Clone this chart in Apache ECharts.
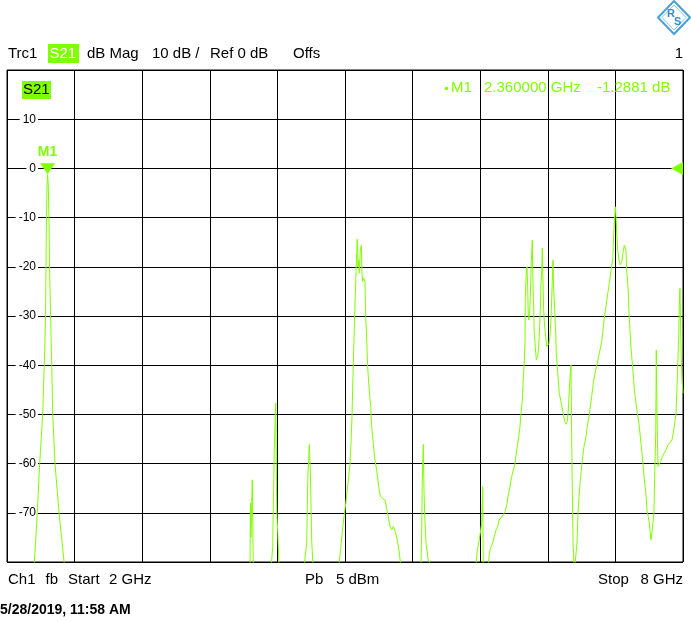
<!DOCTYPE html>
<html>
<head>
<meta charset="utf-8">
<script src="https://cdn.jsdelivr.net/npm/echarts@6/dist/echarts.min.js"></script>
<style>
html,body{margin:0;padding:0;background:#fff;}
#chart{width:691px;height:622px;}
</style>
</head>
<body>
<div id="chart"></div>
<script>
// ---- data ----
const freqGHz = [
  2.000,2.242,2.269,2.290,2.317,2.331,2.342,2.349,2.355,2.360,2.366,2.372,2.378,2.388,2.397,2.406,2.426,2.462,2.509,2.600,
  4.100,4.150,4.157,4.161,4.165,4.177,4.186,4.220,
  4.330,4.346,4.358,4.372,4.385,4.390,4.394,4.403,4.414,4.450,
  4.620,4.639,4.660,4.671,4.678,4.683,4.692,4.705,4.716,4.750,
  4.920,4.947,4.962,4.976,4.991,5.009,5.026,5.044,5.053,5.062,5.068,5.074,5.082,5.091,5.098,5.104,5.109,5.115,5.122,5.127,
  5.136,5.145,5.151,5.157,5.166,5.177,5.184,5.193,5.201,5.213,5.228,5.237,5.251,5.266,5.281,5.295,5.311,5.331,5.355,5.370,
  5.384,5.399,5.414,5.429,5.446,5.464,5.479,5.494,5.550,
  5.650,5.674,5.681,5.686,5.695,5.701,5.710,5.719,5.739,5.748,5.761,5.800,
  6.140,6.163,6.174,6.192,6.213,6.222,6.227,6.250,6.272,6.281,6.296,6.311,6.325,6.340,6.355,6.367,6.384,6.405,6.420,6.435,
  6.449,6.464,6.479,6.494,6.509,6.524,6.538,6.553,6.562,6.574,6.582,6.591,6.598,6.600,6.609,6.615,6.621,6.627,6.633,6.639,
  6.648,6.653,6.662,6.668,6.675,6.680,6.689,6.698,6.710,6.719,6.728,6.733,6.740,6.746,6.751,6.757,6.763,6.772,6.781,6.790,
  6.802,6.810,6.819,6.828,6.834,6.840,6.846,6.852,6.861,6.870,6.875,6.884,6.893,6.902,6.914,6.926,6.937,6.950,6.961,6.973,
  6.982,6.991,7.000,7.006,7.012,7.017,7.024,7.035,7.050,7.059,7.068,7.086,7.103,7.121,7.139,7.150,7.168,7.189,7.204,7.219,
  7.239,7.257,7.275,7.287,7.299,7.316,7.332,7.346,7.361,7.376,7.387,7.394,7.399,7.405,7.411,7.420,7.432,7.443,7.456,7.467,
  7.479,7.488,7.494,7.500,7.512,7.521,7.529,7.538,7.547,7.556,7.568,7.580,7.594,7.609,7.624,7.636,7.647,7.660,7.671,7.680,
  7.692,7.701,7.710,7.716,7.725,7.734,7.742,7.749,7.758,7.763,7.766,7.772,7.778,7.787,7.802,7.816,7.831,7.849,7.867,7.884,
  7.902,7.914,7.926,7.938,7.947,7.955,7.962,7.967,7.973,7.979,7.985,7.991,8.000
];
const s21dB = [
  -90,-80.5,-70,-60,-50,-40,-30,-13,-4,-1.29,-3,-10,-20.6,-31,-40,-50,-60,-70,-80.5,-90,
  -90,-90,-80.5,-68,-75,-63.3,-80.5,-90,
  -90,-80.5,-77,-57.4,-47.7,-60,-69.4,-74,-80.5,-90,
  -90,-80.5,-76,-62,-59.3,-56.1,-61.3,-76,-80.5,-90,
  -90,-80.5,-77.2,-73.8,-70.8,-67.7,-64,-60.3,-55.9,-50.5,-44.4,-39.6,-32.8,-26.1,-20.7,-17.3,-14.4,-20,-18.6,-21.3,
  -16.6,-15.6,-21.3,-23,-22.3,-23,-30.1,-34.9,-40.3,-44.4,-48.4,-52.5,-55.9,-59.3,-61.3,-64,-66.4,-67.1,-67.4,-69.1,
  -70.8,-72.8,-73.5,-72.8,-73.8,-75.5,-77.6,-80.5,-90,
  -90,-80.5,-73.2,-63.3,-56.1,-65.4,-72.1,-76.2,-79.6,-79.6,-80.5,-90,
  -90,-80.5,-77.6,-75.5,-72.1,-64.7,-80.5,-90,-80.5,-78.2,-76.9,-76.2,-74.8,-73.5,-72.8,-71.5,-71.1,-70.4,-69.8,-68.4,
  -66.4,-64.7,-62.7,-61.3,-60,-57.2,-55.2,-52.5,-49.8,-47.1,-43,-39.6,-34.9,-26.7,-21.3,-20,-24,-30.1,-30.8,-29.5,
  -23.4,-19.3,-14.6,-23.4,-28.8,-33.5,-36.2,-38.9,-38.3,-36.2,-32.2,-28.8,-23.4,-20.7,-16.2,-22.7,-28.8,-32.2,-34.2,-36.2,
  -36.6,-35.6,-34.2,-30.8,-26.7,-22.7,-18.6,-24.7,-28.8,-33.5,-37.6,-40.3,-43,-45.7,-47.1,-48.4,-49.8,-51.5,-52,-51.5,
  -49.1,-45,-41.6,-40,-55.2,-64,-76.2,-82,-82,-76.2,-70.1,-64,-60,-56.6,-54.5,-52.5,-50.1,-46.4,-43.7,-41.6,
  -39.6,-37.6,-35.6,-33.5,-30.8,-28.1,-25.4,-23.4,-20.7,-18.6,-12.5,-9.5,-7.8,-9.8,-12.5,-16.6,-18.6,-19.6,-19,-17.3,
  -15.6,-15.2,-16.6,-20.7,-24,-29.5,-32.8,-36.2,-38.9,-41.2,-45,-47.1,-49.8,-51.8,-55.2,-57.9,-60.6,-64,-66,-69.4,
  -70.8,-72.1,-74.2,-75.5,-73.8,-73.5,-70.1,-62,-53.8,-36.9,-44.4,-53.2,-60.6,-60.3,-59.6,-58.6,-57.9,-57.2,-56.2,-55.9,
  -55.2,-53.8,-51.8,-49.8,-44.4,-38.9,-34.2,-28.1,-24.4,-32.2,-38.9,-43,-45.7
];
const marker = { name: 'M1', freq: 2.36, value: -1.2881 };
const refLevel = 0;
const yRange = { min: -80, max: 20, step: 10 };
const xRange = { min: 2, max: 8 };
const xDivisions = 10;

const GREEN = '#80ff00';
const FONT = '"Liberation Sans", Arial, sans-serif';

const chart = echarts.init(document.getElementById('chart'), null, { renderer: 'canvas' });

function txt(text, x, y, opts) {
  opts = opts || {};
  return {
    type: 'text', x: x, y: y, silent: true, z: 100,
    style: {
      text: text,
      font: (opts.weight || 'normal') + ' ' + (opts.size || 15) + 'px ' + FONT,
      fill: opts.color || '#000',
      align: opts.align || 'left',
      verticalAlign: 'top'
    }
  };
}

const option = {
  animation: false,
  backgroundColor: '#fff',
  grid: { left: 7, top: 70, width: 676, height: 492, show: true, borderColor: '#000', borderWidth: 1, backgroundColor: 'transparent', z: 3 },
  xAxis: [
    { type: 'value', min: xRange.min, max: xRange.max, show: true,
      axisLine: { show: false }, axisTick: { show: false }, axisLabel: { show: false }, splitLine: { show: false } },
    { type: 'value', min: 0, max: xDivisions, interval: 1, position: 'top', show: true,
      axisLine: { show: false }, axisTick: { show: false }, axisLabel: { show: false },
      splitLine: { show: true, lineStyle: { color: '#000', width: 1 } } }
  ],
  yAxis: {
    type: 'value', min: yRange.min, max: yRange.max, interval: yRange.step,
    axisLine: { show: false }, axisTick: { show: false },
    splitLine: { show: true, lineStyle: { color: '#000', width: 1 } },
    axisLabel: {
      inside: true, margin: 31, align: 'right', showMinLabel: false, showMaxLabel: false,
      color: '#000', fontSize: 12, fontFamily: FONT,
      backgroundColor: '#fff', padding: [0, 2, 0, 3]
    },
    z: 4
  },
  series: [{
    type: 'line', xAxisIndex: 0,
    data: freqGHz.map((f, i) => [f, s21dB[i]]),
    showSymbol: false, clip: true, z: 5,
    lineStyle: { color: GREEN, width: 1 },
    markPoint: {
      silent: true,
      data: [
        { coord: [marker.freq, marker.value], symbol: 'path://M0,0 L10,0 L5,8 Z', symbolSize: [15, 11], symbolOffset: [0, -6],
          itemStyle: { color: GREEN },
          label: { show: true, position: 'top', distance: 4, formatter: marker.name, color: GREEN, fontWeight: 'bold', fontSize: 14, fontFamily: FONT } },
        { coord: [xRange.max, refLevel], symbol: 'path://M10,0 L10,10 L0,5 Z', symbolSize: [12, 13], symbolOffset: [-6, 0],
          itemStyle: { color: GREEN }, label: { show: false } }
      ]
    }
  }],
  graphic: [
    // header
    txt('Trc1', 8, 46),
    { type: 'rect', shape: { x: 48, y: 44, width: 31, height: 19 }, style: { fill: GREEN }, silent: true, z: 99 },
    txt('S21', 49.5, 46, { color: '#fff' }),
    txt('dB Mag', 87, 46),
    txt('10 dB /', 152, 46),
    txt('Ref 0 dB', 210, 46),
    txt('Offs', 293, 46),
    txt('1', 683, 46, { align: 'right' }),
    // plot-area labels
    { type: 'rect', shape: { x: 22, y: 81, width: 29, height: 18 }, style: { fill: GREEN }, silent: true, z: 99 },
    txt('S21', 23, 82),
    { type: 'circle', shape: { cx: 446.5, cy: 88.5, r: 1.8 }, style: { fill: GREEN }, silent: true, z: 100 },
    txt('M1', 451, 80, { color: GREEN }),
    txt('2.360000 GHz', 484, 80, { color: GREEN }),
    txt('-1.2881 dB', 597, 80, { color: GREEN }),
    // footer
    txt('Ch1', 8, 572),
    txt('fb', 45.5, 572),
    txt('Start', 68, 572),
    txt('2 GHz', 109, 572),
    txt('Pb', 305, 572),
    txt('5 dBm', 336, 572),
    txt('Stop', 598, 572),
    txt('8 GHz', 683, 572, { align: 'right' }),
    txt('5/28/2019, 11:58 AM', 0, 603, { size: 14, weight: 'bold' }),
    // R&S logo
    { type: 'polygon', shape: { points: [[674, 1], [690, 17.5], [674, 34], [658, 17.5]] },
      style: { fill: '#fff', stroke: '#4a9fd8', lineWidth: 2 }, silent: true, z: 100 },
    { type: 'polygon', shape: { points: [[674, 5], [686, 17.5], [674, 30], [662, 17.5]] },
      style: { fill: 'none', stroke: '#8cc4ea', lineWidth: 1 }, silent: true, z: 100 },
    txt('R', 667, 8, { size: 11, color: '#2f8fd0', weight: 'bold' }),
    txt('S', 674, 16, { size: 11, color: '#2f8fd0', weight: 'bold' })
  ]
};
chart.setOption(option);
</script>
</body>
</html>
